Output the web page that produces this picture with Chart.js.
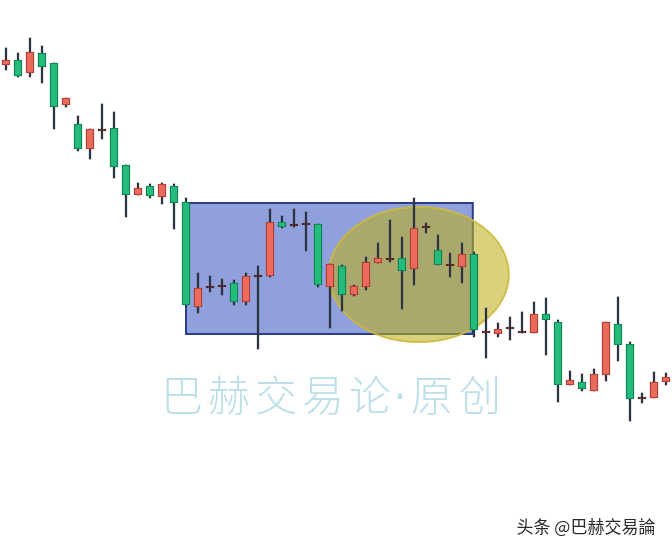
<!DOCTYPE html>
<html lang="zh">
<head>
  <meta charset="UTF-8">
  <title>巴赫交易论 K线</title>
  <style>
    body { margin: 0; background: #fff; overflow: hidden; }
    #wrap { width: 672px; height: 552px; }
  </style>
</head>
<body>
  <div id="wrap"><canvas id="kline" width="672" height="552"></canvas></div>

  <script src="https://cdn.jsdelivr.net/npm/chart.js"></script>
  <script>
    // K线数据 (开, 高, 低, 收)
    var opens  = [487,492,479,499,489,447,428,403,423,424,387,357,366,355,366,350,245,264,265,269,250,275,276,330,326,327,328,265,286,257,265,289,292,294,283,324,302,286,285,298,219,218,223,219,219,238,230,167,170,161,177,228,208,153,154,170];
    var highs  = [504,499,514,506,489,454,436,423,448,440,387,369,368,369,368,354,279,276,273,272,279,286,343,336,343,340,328,288,287,267,295,309,332,315,354,329,317,299,309,300,244,229,235,240,250,254,232,181,178,183,230,255,210,159,180,179];
    var lows   = [482,475,475,469,423,445,401,393,413,374,335,357,354,348,323,246,239,260,257,247,247,203,275,324,325,301,265,224,241,256,262,289,290,243,267,319,287,275,269,215,194,215,212,219,219,197,150,167,161,161,171,191,131,149,154,167];
    var closes = [492,476,500,485,445,454,403,423,421,385,357,364,356,368,349,247,264,266,267,250,276,277,330,325,328,329,267,288,257,266,290,294,294,281,324,326,287,288,298,222,221,223,225,221,238,232,167,172,163,178,230,207,153,155,170,175];
    var labels = opens.map(function (v, i) { return 'K' + (i + 1); });

    // 标注: 箱体 (K线序号范围, 价格范围) 和 椭圆
    var boxFrom = 15.0, boxTo = 38.9, boxHigh = 349, boxLow = 218;
    var ovalCenter = 34.4, ovalHalfWidth = 7.5, ovalMid = 277.5, ovalHalfHeight = 67.5;

    // 水印文字
    var markChars = ['巴', '赫', '交', '易', '论', '·', '原', '创'];
    var markX = [182, 229, 276, 323, 370, 400, 432, 480];

    var wickData = lows.map(function (l, i) { return [l, highs[i]]; });
    var bodyData = opens.map(function (o, i) { return [o, closes[i]]; });

    function candleColor(i, up, down, doji) {
      var d = closes[i] - opens[i];
      if (Math.abs(d) <= 3) return doji;
      return d > 0 ? up : down;
    }
    var bodyFill = opens.map(function (o, i) { return candleColor(i, '#ec6a5c', '#22bb7c', '#6a2b2b'); });
    var bodyEdge = opens.map(function (o, i) { return candleColor(i, '#a9362c', '#0f7a4b', '#4a1c1c'); });

    // 箱体和椭圆在K线下面, 文字在上面
    var marksPlugin = {
      id: 'marks',
      beforeDatasetsDraw: function (chart) {
        var ctx = chart.ctx, x = chart.scales.x, y = chart.scales.y;
        var l = x.getPixelForValue(boxFrom), r = x.getPixelForValue(boxTo);
        var t = y.getPixelForValue(boxHigh), b = y.getPixelForValue(boxLow);
        ctx.save();
        ctx.fillStyle = '#8fa0dc';
        ctx.fillRect(l, t, r - l, b - t);
        ctx.strokeStyle = '#2c3d8c';
        ctx.lineWidth = 2;
        ctx.strokeRect(l, t, r - l, b - t);

        var cx = x.getPixelForValue(ovalCenter);
        var rx = x.getPixelForValue(ovalCenter + ovalHalfWidth) - cx;
        var cy = y.getPixelForValue(ovalMid);
        var ry = y.getPixelForValue(ovalMid - ovalHalfHeight) - cy;
        ctx.beginPath();
        ctx.ellipse(cx, cy, rx, ry, 0, 0, Math.PI * 2);
        ctx.fillStyle = 'rgba(190, 175, 30, 0.58)';
        ctx.fill();
        ctx.strokeStyle = 'rgba(205, 185, 60, 0.9)';
        ctx.lineWidth = 2;
        ctx.stroke();
        ctx.restore();
      },
      afterDraw: function (chart) {
        var ctx = chart.ctx;
        ctx.save();
        ctx.textAlign = 'center';
        ctx.textBaseline = 'alphabetic';
        ctx.fillStyle = '#bddfe9';
        markChars.forEach(function (ch, i) {
          ctx.font = ch === '·' ? '42px "DejaVu Sans"' : '300 42px "Noto Sans CJK SC"';
          ctx.fillText(ch, markX[i], 411);
        });

        ctx.textBaseline = 'middle';
        ctx.font = '17px "Noto Sans CJK SC"';
        ctx.fillStyle = '#ffffff';
        ctx.fillText('头条 @巴赫交易論', 587, 528);
        ctx.fillStyle = '#2a2a2a';
        ctx.fillText('头条 @巴赫交易論', 586, 527);
        ctx.restore();
      }
    };

    var ctx = document.getElementById('kline').getContext('2d');
    var chart = new Chart(ctx, {
      type: 'bar',
      data: {
        labels: labels,
        datasets: [{
          label: '实体',
          data: bodyData,
          backgroundColor: bodyFill,
          borderColor: bodyEdge,
          borderWidth: 1.2,
          borderSkipped: false,
          barThickness: 8,
          grouped: false,
          order: 0
        }, {
          label: '影线',
          data: wickData,
          backgroundColor: '#2b3440',
          borderWidth: 0,
          barThickness: 1.6,
          grouped: false,
          order: 1
        }]
      },
      options: {
        responsive: false,
        animation: false,
        layout: { padding: 0 },
        plugins: {
          legend: { display: false },
          tooltip: { enabled: false }
        },
        scales: {
          x: { display: false, offset: true },
          y: { display: false, min: 0, max: 552 }
        }
      },
      plugins: [marksPlugin]
    });
  </script>
</body>
</html>
